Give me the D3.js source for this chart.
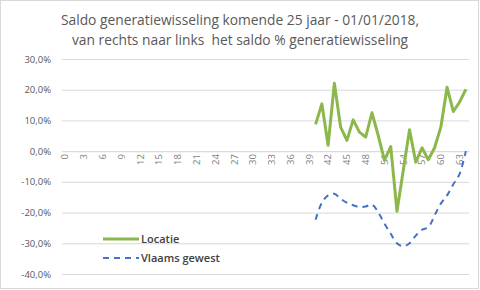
<!DOCTYPE html>
<html>
<head>
<meta charset="utf-8" />
<title>Saldo generatiewisseling</title>
<script src="https://cdn.jsdelivr.net/npm/d3@7"></script>
<style>
body { margin: 0; background: #fff; }
text { font-family: "Open Sans", "Liberation Sans", sans-serif; }
</style>
</head>
<body>
<div id="chart"></div>
<script>
// leeftijden 0..64, waarden alleen voor 40..64
var ages = d3.range(0, 65);
var locatieAges = d3.range(40, 65);
var locatie = [8.7, 15.4, 1.9, 22.1, 7.8, 3.5, 10.2, 6.2, 4.6, 12.5, 5.1, -3.0, 1.5,
	-19.6, -6.3, 7.0, -3.6, 1.1, -2.8, 1.1, 7.8, 20.8, 12.9, 16.0, 20.1];
var vlaams = [-22.3, -16.8, -14.4, -13.9, -15.5, -16.8, -17.6, -18.2, -18.0, -17.4, -19.9, -23.6, -26.9,
	-30.0, -31.0, -30.0, -27.5, -25.6, -24.8, -20.9, -17.1, -14.4, -10.8, -7.4, 0.0];
var yTicks = [30, 20, 10, 0, -10, -20, -30, -40];
var titleLines = ["Saldo generatiewisseling komende 25 jaar - 01/01/2018,",
	"van rechts naar links  het saldo % generatiewisseling"];

const width = 480, height = 290;
const margin = {top: 59, right: 11, bottom: 16, left: 62};

const svg = d3.select("#chart").append("svg")
	.attr("width", width)
	.attr("height", height);

svg.append("rect")
	.attr("x", 0.5).attr("y", 0.5)
	.attr("width", width - 2).attr("height", height - 2)
	.attr("fill", "#fff")
	.attr("stroke", "#d9d9d9");

var x = d3.scaleBand().domain(ages).range([margin.left, width - margin.right]);
var y = d3.scaleLinear().domain([-40, 30]).range([height - margin.bottom, margin.top]);
var xc = d => x(d) + x.bandwidth() / 2;

// title
svg.append("g").selectAll("text")
	.data(titleLines)
	.enter().append("text")
		.attr("x", 240)
		.attr("y", (d, i) => 25 + i * 19.5)
		.attr("text-anchor", "middle")
		.attr("font-size", 13.8)
		.attr("fill", "#595959")
		.style("white-space", "pre")
		.text(d => d);

// y grid + labels
var yAxis = svg.append("g")
	.attr("transform", "translate(" + margin.left + ",0)")
	.call(d3.axisLeft(y).tickValues(yTicks)
		.tickSize(-(width - margin.left - margin.right))
		.tickPadding(11)
		.tickFormat(d => d3.format(".1f")(d).replace(".", ",").replace("−", "-") + "%"));
yAxis.select(".domain").remove();
yAxis.selectAll("line").attr("stroke", "#d9d9d9");
yAxis.selectAll("text").attr("fill", "#595959").attr("font-size", 9.5)
	.style("font-family", "'Open Sans', sans-serif");

// x axis at 0
var xAxis = svg.append("g")
	.attr("transform", "translate(0," + y(0) + ")")
	.call(d3.axisBottom(x).tickValues(ages.filter(d => d % 3 === 0)).tickSize(0));
xAxis.select(".domain").attr("stroke", "#d9d9d9");
xAxis.selectAll("text")
	.attr("fill", "#7f7f7f")
	.attr("font-size", 9.5)
	.attr("text-anchor", "end")
	.attr("dy", "0.35em")
	.attr("transform", "translate(0,3) rotate(-90)")
	.attr("x", 0).attr("y", 0);

// lines
var line = d3.line().x(d => xc(d[0])).y(d => y(d[1]));
var smooth = d3.line().x(d => xc(d[0])).y(d => y(d[1])).curve(d3.curveCatmullRom);

svg.append("path")
	.datum(d3.zip(locatieAges, vlaams))
	.attr("fill", "none")
	.attr("stroke", "#4472c4")
	.attr("stroke-width", 2)
	.attr("stroke-dasharray", "6,5")
	.attr("d", smooth);

svg.append("path")
	.datum(d3.zip(locatieAges, locatie))
	.attr("fill", "none")
	.attr("stroke", "#8cb84b")
	.attr("stroke-width", 3)
	.attr("stroke-linejoin", "round")
	.attr("d", line);

// legend
var legend = svg.append("g").attr("transform", "translate(103,239)");
legend.append("line").attr("x1", 0).attr("x2", 36).attr("y1", 0).attr("y2", 0)
	.attr("stroke", "#8cb84b").attr("stroke-width", 3);
legend.append("line").attr("x1", 0).attr("x2", 36).attr("y1", 19).attr("y2", 19)
	.attr("stroke", "#4472c4").attr("stroke-width", 2).attr("stroke-dasharray", "6,5");
legend.selectAll("text")
	.data(["Locatie", "Vlaams gewest"])
	.enter().append("text")
		.attr("x", 38)
		.attr("y", (d, i) => i * 19)
		.attr("dy", "0.35em")
		.attr("font-size", 11)
		.attr("font-weight", 600)
		.attr("fill", "#404040")
		.text(d => d);
</script>
</body>
</html>
